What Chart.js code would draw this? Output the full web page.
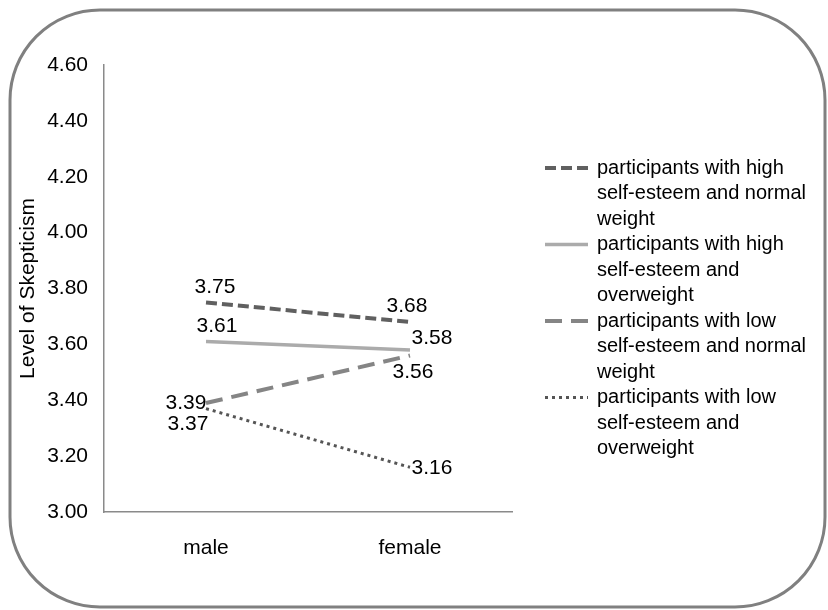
<!DOCTYPE html>
<html>
<head>
<meta charset="utf-8">
<script src="https://cdn.jsdelivr.net/npm/chart.js@4/dist/chart.umd.min.js"></script>
<style>
  html, body { margin: 0; padding: 0; background: #ffffff; }
  #wrap { width: 828px; height: 610px; position: relative; }
</style>
</head>
<body>
<div id="wrap"><canvas id="c" width="828" height="610"></canvas></div>
<script>
// Categories and series values
const categories = ['male', 'female'];
const seriesNames = [
  'participants with high self-esteem and normal weight',
  'participants with high self-esteem and overweight',
  'participants with low self-esteem and normal weight',
  'participants with low self-esteem and overweight'
];
const highNormal = [3.75, 3.68];
const highOver = [3.61, 3.58];
const lowNormal = [3.39, 3.56];
const lowOver = [3.37, 3.16];
const yTicks = [3.00, 3.20, 3.40, 3.60, 3.80, 4.00, 4.20, 4.40, 4.60];
const yTitle = 'Level of Skepticism';

const FONT = '"Liberation Sans", Arial, Helvetica, sans-serif';

// Line styles for each series
const styles = [
  { color: '#606060', width: 4, dash: [11, 5] },
  { color: '#ababab', width: 3.5, dash: [] },
  { color: '#858585', width: 4, dash: [17, 9] },
  { color: '#555555', width: 3, dash: [3, 4] }
];

// Value label placement relative to each point (dx, dy)
const labelOffsets = [
  [[9, -15], [-3, -16]],
  [[11, -15], [22, -12]],
  [[-20, 0], [3, 17]],
  [[-18, 16], [22, 1]]
];

const seriesValues = [highNormal, highOver, lowNormal, lowOver];

const datasets = seriesValues.map((vals, i) => ({
  label: seriesNames[i],
  data: vals,
  borderColor: styles[i].color,
  backgroundColor: styles[i].color,
  borderWidth: styles[i].width,
  borderDash: styles[i].dash,
  borderCapStyle: 'butt',
  pointRadius: 0,
  pointHoverRadius: 0,
  tension: 0,
  fill: false
}));

// Rounded frame around the whole chart
const framePlugin = {
  id: 'frame',
  beforeDraw(chart) {
    const ctx = chart.ctx;
    ctx.save();
    ctx.fillStyle = '#ffffff';
    ctx.fillRect(0, 0, chart.width, chart.height);
    ctx.beginPath();
    ctx.roundRect(10, 10, 815, 597, 90);
    ctx.lineWidth = 3;
    ctx.strokeStyle = '#808080';
    ctx.stroke();
    ctx.restore();
  }
};

// Value labels next to the line ends
const valueLabels = {
  id: 'valueLabels',
  afterDatasetsDraw(chart) {
    const ctx = chart.ctx;
    ctx.save();
    ctx.font = '21px ' + FONT;
    ctx.fillStyle = '#000000';
    ctx.textAlign = 'center';
    ctx.textBaseline = 'middle';
    chart.data.datasets.forEach((ds, i) => {
      const meta = chart.getDatasetMeta(i);
      meta.data.forEach((pt, j) => {
        const off = labelOffsets[i][j];
        ctx.fillText(ds.data[j].toFixed(2), pt.x + off[0], pt.y + off[1]);
      });
    });
    ctx.restore();
  }
};

// Legend on the right with wrapped series names
function wrapText(ctx, text, maxWidth) {
  const words = text.split(' ');
  const lines = [];
  let line = '';
  words.forEach(w => {
    const test = line ? line + ' ' + w : w;
    if (ctx.measureText(test).width > maxWidth && line) {
      lines.push(line);
      line = w;
    } else {
      line = test;
    }
  });
  if (line) lines.push(line);
  return lines;
}

const sideLegend = {
  id: 'sideLegend',
  afterDraw(chart) {
    const ctx = chart.ctx;
    ctx.save();
    ctx.font = '20px ' + FONT;
    ctx.textBaseline = 'middle';
    ctx.textAlign = 'left';
    const sampleX0 = 545, sampleX1 = 588, textX = 597;
    const lineH = 25.5;
    let y = 168;
    chart.data.datasets.forEach((ds, i) => {
      const st = styles[i];
      ctx.beginPath();
      ctx.setLineDash(st.dash);
      ctx.lineWidth = st.width;
      ctx.strokeStyle = st.color;
      ctx.lineCap = 'butt';
      ctx.moveTo(sampleX0, y);
      ctx.lineTo(sampleX1, y);
      ctx.stroke();
      ctx.setLineDash([]);
      ctx.fillStyle = '#000000';
      const lines = wrapText(ctx, ds.label, 218);
      lines.forEach((ln, k) => {
        ctx.fillText(ln, textX, y + k * lineH);
      });
      y += lines.length * lineH;
    });
    ctx.restore();
  }
};

new Chart(document.getElementById('c'), {
  type: 'line',
  data: { labels: categories, datasets },
  options: {
    responsive: false,
    animation: false,
    events: [],
    layout: { padding: { top: 65, left: 0, right: 316, bottom: 0 } },
    plugins: {
      legend: { display: false },
      tooltip: { enabled: false },
      title: { display: false }
    },
    scales: {
      x: {
        offset: true,
        grid: { display: false, drawTicks: false },
        border: { display: true, color: '#8a8a8a', width: 1.5 },
        ticks: { color: '#000000', font: { family: FONT, size: 21 }, padding: 24 },
        afterFit(scale) { scale.height = 98; }
      },
      y: {
        min: 3.0,
        max: 4.6,
        grid: { display: false, drawTicks: false },
        border: { display: true, color: '#8a8a8a', width: 1.5 },
        afterBuildTicks(scale) { scale.ticks = yTicks.map(v => ({ value: v })); },
        ticks: {
          color: '#000000',
          font: { family: FONT, size: 21 },
          padding: 16,
          callback: v => Number(v).toFixed(2)
        },
        title: {
          display: true,
          text: yTitle,
          color: '#000000',
          font: { family: FONT, size: 21 },
          padding: { top: 16, bottom: 0 }
        },
        afterFit(scale) { scale.width = 104; }
      }
    }
  },
  plugins: [framePlugin, valueLabels, sideLegend]
});
</script>
</body>
</html>
